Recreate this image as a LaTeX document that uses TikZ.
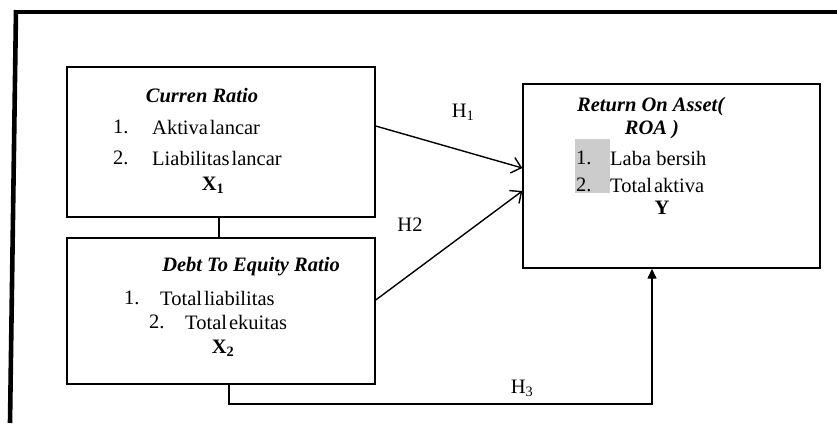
\documentclass[tikz,border=0pt]{standalone}
\usepackage{fontspec}
\setmainfont{Liberation Serif}
\usetikzlibrary{arrows.meta}
\tikzset{
  box/.style={draw, line width=1.4pt, inner sep=0pt},
  txt/.style={inner sep=0pt, font=\fontsize{20.5}{22}\selectfont},
  ttl/.style={inner sep=0pt, font=\fontsize{20.5}{22}\selectfont\bfseries\itshape},
  bld/.style={inner sep=0pt, font=\fontsize{20.5}{22}\selectfont\bfseries},
  item/.style={txt, anchor=west},
  hyp/.style={line width=1.4pt, -{Straight Barb[length=9pt,width=16pt,line width=1.4pt]}},
  hyptri/.style={line width=1.4pt, -{Triangle[length=10pt,width=9pt]}},
  frame/.style={line width=4.6pt}
}
\begin{document}
\begin{tikzpicture}[x=1pt,y=-1pt]
\useasboundingbox (0,0) rectangle (837,423);
% outer frame
\coordinate (f1) at (837,12);
\coordinate (f2) at (14,12);
\coordinate (f3) at (10,423);
\draw[frame] (f1) -- (f2);
\draw[frame] (16,10) -- (f3);
% boxes
\node[box, minimum width=308pt, minimum height=150pt] (x1) at (221,142) {};
\node[box, minimum width=308pt, minimum height=146pt] (x2) at (221,311) {};
\node[box, minimum width=297pt, minimum height=184pt] (yb) at (671.5,176) {};
% X1 text
\node[ttl] (t1) at (202,96) {Curren Ratio};
\node[item] (a1n) at (113,127) {1.};
\node[item] (a1) at (152,127) {Aktiva\hspace{2pt}lancar};
\node[item] (a2n) at (113,158) {2.};
\node[item] (a2) at (152,158) {Liabilitas\hspace{2pt}lancar};
\node[bld] (lx1) at (213,185) {X\textsubscript{1}};
% X2 text
\node[ttl] (t2) at (251,267) {Debt To Equity Ratio};
\node[item] (b1n) at (124,298) {1.};
\node[item] (b1) at (160,298) {Total\hspace{2pt}liabilitas};
\node[item] (b2n) at (149,322) {2.};
\node[item] (b2) at (185,322) {Total\hspace{2pt}ekuitas};
\node[bld] (lx2) at (223,348) {X\textsubscript{2}};
% Y text
\fill[black!20] (575,139) rectangle (610,193);
\node[ttl, anchor=west] (t3) at (577,107) {Return On Asset(};
\node[ttl] (t3b) at (652,130) {ROA )};
\node[item] (c1n) at (576,158) {1.};
\node[item] (c1) at (610,158) {Laba bersih};
\node[item] (c2n) at (576,185) {2.};
\node[item] (c2) at (610,185) {Total\hspace{2pt}aktiva};
\node[bld] (ly) at (662,208) {Y};
% connectors
\draw[line width=1.4pt] ([xshift=-2pt]x1.south) -- ([xshift=-2pt]x2.north);
\draw[hyp] ([yshift=16pt]x1.east) -- ([yshift=8pt]yb.west);
\draw[hyp] ([yshift=11pt]x2.east) -- ([yshift=-15pt]yb.west);
\coordinate (h3turn) at (652,404);
\draw[hyptri] ([xshift=8pt]x2.south) |- (h3turn) -- (h3turn |- yb.south);
% labels
\node[txt] (h1) at (463,112) {H\textsubscript{1}};
\node[txt] (h2) at (410,225) {H2};
\node[txt] (h3) at (522,388) {H\textsubscript{3}};
\end{tikzpicture}
\end{document}
